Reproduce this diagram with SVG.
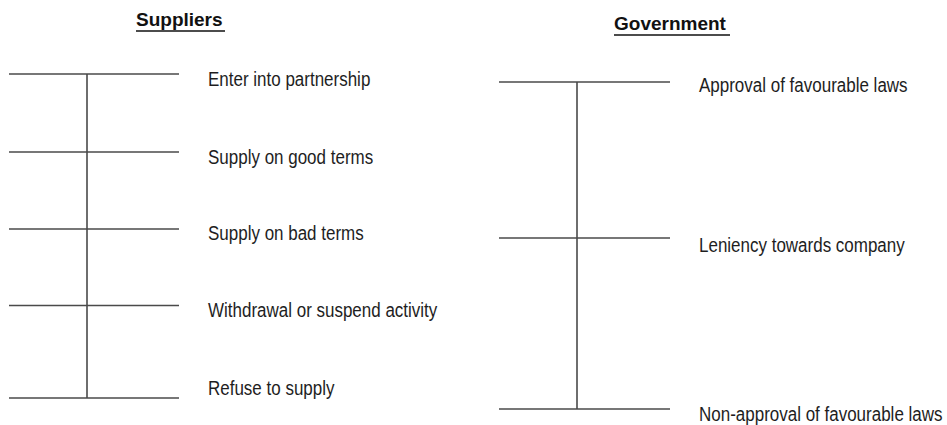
<svg xmlns="http://www.w3.org/2000/svg" width="947" height="425" viewBox="0 0 947 425">
  <style>
    .bar { stroke: #4a4a4a; stroke-width: 1.6; fill: none; }
    .label { font-family: "Liberation Sans", Arial, sans-serif; font-size: 17px; fill: #1e1e1e; }
    .title { font-family: "Liberation Sans", Arial, sans-serif; font-size: 19px; font-weight: bold; fill: #111; }
    .uline { stroke: #111; stroke-width: 1.4; }
  </style>
  <rect width="947" height="425" fill="#ffffff"/>

  <!-- Suppliers scale -->
  <g id="suppliers">
    <text class="title" x="136" y="26">Suppliers</text>
    <line class="uline" x1="136" y1="31" x2="225" y2="31"/>
  </g>
  <g id="connectors">
    <line class="bar" x1="87" y1="74" x2="87" y2="398"/>
    <line class="bar" x1="9" y1="74" x2="179" y2="74"/>
    <line class="bar" x1="9" y1="152" x2="179" y2="152"/>
    <line class="bar" x1="9" y1="229" x2="179" y2="229"/>
    <line class="bar" x1="9" y1="305.5" x2="179" y2="305.5"/>
    <line class="bar" x1="9" y1="398" x2="179" y2="398"/>

    <line class="bar" x1="577" y1="82" x2="577" y2="409"/>
    <line class="bar" x1="499" y1="82" x2="670" y2="82"/>
    <line class="bar" x1="499" y1="238" x2="670" y2="238"/>
    <line class="bar" x1="499" y1="409" x2="670" y2="409"/>
  </g>
  <!-- labels are drawn slightly tall: scaled 1.15 vertically about their baseline -->
  <g id="s-partnership"><text class="label" transform="translate(208 86) scale(1 1.15)">Enter into partnership</text></g>
  <g id="s-good"><text class="label" transform="translate(208 164) scale(1 1.15)">Supply on good terms</text></g>
  <g id="s-bad"><text class="label" transform="translate(208 240) scale(1 1.15)">Supply on bad terms</text></g>
  <g id="s-withdraw"><text class="label" transform="translate(208 317) scale(1 1.15)">Withdrawal or suspend activity</text></g>
  <g id="s-refuse"><text class="label" transform="translate(208 395) scale(1 1.15)">Refuse to supply</text></g>

  <!-- Government scale -->
  <g id="government">
    <text class="title" x="614" y="30">Government</text>
    <line class="uline" x1="614" y1="35" x2="730" y2="35"/>
  </g>
  <g id="g-approval"><text class="label" transform="translate(699 92) scale(1 1.15)">Approval of favourable laws</text></g>
  <g id="g-leniency"><text class="label" transform="translate(699 252) scale(1 1.15)">Leniency towards company</text></g>
  <g id="g-nonapproval"><text class="label" transform="translate(699 421) scale(1 1.15)">Non-approval of favourable laws</text></g>
</svg>
